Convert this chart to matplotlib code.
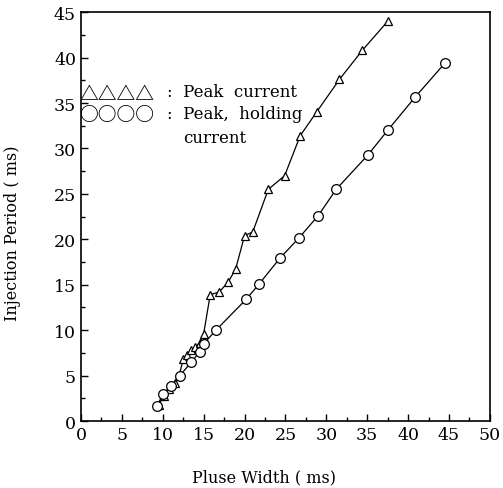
import numpy as np
import matplotlib.pyplot as plt
from matplotlib.ticker import MultipleLocator

# Peak current (triangles)
tri_x = [9.5, 10.2, 10.8, 11.5, 12.0, 12.5, 13.0, 13.5, 14.0, 14.5, 15.0,
         15.8, 16.9, 18.0, 18.9, 20.0, 21.0, 22.9, 24.9, 26.8, 28.8, 31.6,
         34.4, 37.5]
tri_y = [1.8, 2.8, 3.5, 4.2, 5.0, 6.8, 7.3, 7.8, 8.2, 8.6, 9.6,
         13.9, 14.2, 15.3, 16.7, 20.4, 20.8, 25.5, 27.0, 31.4, 34.0, 37.6,
         40.8, 44.0]

# Peak, holding current (circles)
cir_x = [9.3, 10.0, 11.0, 12.1, 13.5, 14.5, 15.0, 16.5, 20.2, 21.8, 24.3,
         26.6, 29.0, 31.2, 35.1, 37.5, 40.9, 44.5]
cir_y = [1.6, 3.0, 3.8, 5.0, 6.5, 7.6, 8.5, 10.0, 13.4, 15.1, 17.9,
         20.1, 22.6, 25.5, 29.3, 32.0, 35.7, 39.4]

fig = plt.figure(figsize=(5.03, 4.89), dpi=100)
ax = fig.add_axes([0.161, 0.137, 0.813, 0.836])

ax.plot(tri_x, tri_y, color="black", lw=0.9, marker="^", ms=6,
        mfc="white", mec="black", mew=0.9)
ax.plot(cir_x, cir_y, color="black", lw=0.9, marker="o", ms=7,
        mfc="white", mec="black", mew=0.9)

ax.set_xlim(0, 50)
ax.set_ylim(0, 45)
ax.xaxis.set_major_locator(MultipleLocator(5))
ax.xaxis.set_minor_locator(MultipleLocator(2.5))
ax.yaxis.set_major_locator(MultipleLocator(5))
ax.yaxis.set_minor_locator(MultipleLocator(2.5))
ax.tick_params(which="both", direction="in", length=5, width=1)
ax.tick_params(which="minor", length=3)
for lab in ax.get_xticklabels() + ax.get_yticklabels():
    lab.set_family("DejaVu Serif")
    lab.set_fontsize(12.5)
for s in ax.spines.values():
    s.set_linewidth(1.2)

ax.set_xlabel("Pluse Width ( ms)", family="DejaVu Serif", fontsize=11.5, va="top")
ax.set_ylabel("Injection Period ( ms)", family="DejaVu Serif", fontsize=11.5)
ax.xaxis.set_label_coords(0.447, -0.117)
ax.yaxis.set_label_coords(-0.147, 0.462)

# legend drawn as text like the original
sym = dict(transform=ax.transAxes, family=["Noto Sans CJK JP", "DejaVu Sans"],
           va="center", ha="left", fontweight="bold")
txt = dict(transform=ax.transAxes, family="DejaVu Serif", fontsize=12,
           va="center", ha="left")
ax.text(-0.005, 0.800, "△△△△", fontsize=13.5, **sym)
ax.text(-0.005, 0.753, "○○○○", fontsize=13.5, **sym)
ax.text(0.21, 0.807, ":  Peak  current", **txt)
ax.text(0.21, 0.753, ":  Peak,  holding", **txt)
ax.text(0.25, 0.694, "current", **txt)

fig.savefig("out.png", dpi=100)
